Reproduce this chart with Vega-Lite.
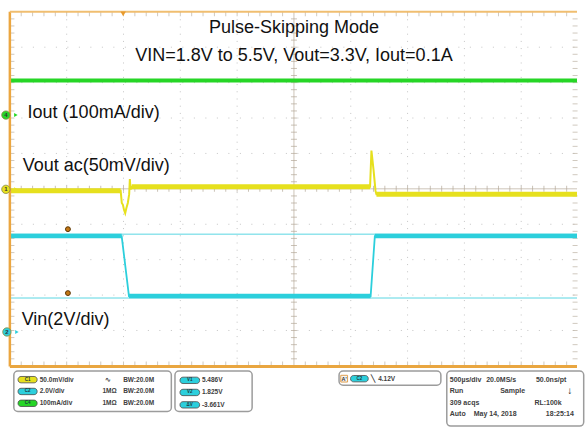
{
  "$schema": "https://vega.github.io/schema/vega-lite/v6.json",
  "width": 585,
  "height": 427,
  "autosize": {"type": "fit", "contains": "padding"},
  "padding": 0,
  "background": "white",
  "config": {
    "view": {"stroke": null},
    "font": "Liberation Sans",
    "axis": {"disable": true},
    "legend": {"disable": true}
  },
  "datasets": {
    "gridx": [{"t": -2}, {"t": -1.5}, {"t": -1}, {"t": -0.5}, {"t": 0.5}, {"t": 1}, {"t": 1.5}, {"t": 2}],
    "gridy": [{"d": -4}, {"d": -3}, {"d": -2}, {"d": -1}, {"d": 1}, {"d": 2}, {"d": 3}, {"d": 4}],
    "xticks": [
      {"t": -2.4}, {"t": -2.3}, {"t": -2.2}, {"t": -2.1}, {"t": -2.0}, {"t": -1.9}, {"t": -1.8}, {"t": -1.7}, {"t": -1.6}, {"t": -1.5},
      {"t": -1.4}, {"t": -1.3}, {"t": -1.2}, {"t": -1.1}, {"t": -1.0}, {"t": -0.9}, {"t": -0.8}, {"t": -0.7}, {"t": -0.6}, {"t": -0.5},
      {"t": -0.4}, {"t": -0.3}, {"t": -0.2}, {"t": -0.1}, {"t": 0.1}, {"t": 0.2}, {"t": 0.3}, {"t": 0.4}, {"t": 0.5}, {"t": 0.6},
      {"t": 0.7}, {"t": 0.8}, {"t": 0.9}, {"t": 1.0}, {"t": 1.1}, {"t": 1.2}, {"t": 1.3}, {"t": 1.4}, {"t": 1.5}, {"t": 1.6},
      {"t": 1.7}, {"t": 1.8}, {"t": 1.9}, {"t": 2.0}, {"t": 2.1}, {"t": 2.2}, {"t": 2.3}, {"t": 2.4}
    ],
    "yticks": [
      {"d": -4.8}, {"d": -4.6}, {"d": -4.4}, {"d": -4.2}, {"d": -4.0}, {"d": -3.8}, {"d": -3.6}, {"d": -3.4}, {"d": -3.2}, {"d": -3.0},
      {"d": -2.8}, {"d": -2.6}, {"d": -2.4}, {"d": -2.2}, {"d": -2.0}, {"d": -1.8}, {"d": -1.6}, {"d": -1.4}, {"d": -1.2}, {"d": -1.0},
      {"d": -0.8}, {"d": -0.6}, {"d": -0.4}, {"d": -0.2}, {"d": 0.2}, {"d": 0.4}, {"d": 0.6}, {"d": 0.8}, {"d": 1.0}, {"d": 1.2},
      {"d": 1.4}, {"d": 1.6}, {"d": 1.8}, {"d": 2.0}, {"d": 2.2}, {"d": 2.4}, {"d": 2.6}, {"d": 2.8}, {"d": 3.0}, {"d": 3.2},
      {"d": 3.4}, {"d": 3.6}, {"d": 3.8}, {"d": 4.0}, {"d": 4.2}, {"d": 4.4}, {"d": 4.6}, {"d": 4.8}
    ],
    "iout": [{"t": -2.5, "div": 3.06}, {"t": 2.491, "div": 3.06}],
    "vin": [
      {"t": -2.5, "div": -1.333}, {"t": -1.516, "div": -1.333}, {"t": -1.452, "div": -3.028},
      {"t": 0.675, "div": -3.028}, {"t": 0.712, "div": -1.333}, {"t": 2.491, "div": -1.333}
    ],
    "vin_flat": [
      {"t1": -2.5, "t2": -1.516, "div": -1.333},
      {"t1": -1.452, "t2": 0.675, "div": -3.028},
      {"t1": 0.712, "t2": 2.491, "div": -1.333}
    ],
    "vin_ref": [{"level": "high", "div": -1.28}, {"level": "low", "div": -3.083}],
    "vout": [
      {"t": -2.5, "div": -0.056}, {"t": -1.525, "div": -0.056}, {"t": -1.515, "div": -0.4},
      {"t": -1.505, "div": -0.45}, {"t": -1.495, "div": -0.6}, {"t": -1.485, "div": -0.69},
      {"t": -1.475, "div": -0.55}, {"t": -1.462, "div": -0.4}, {"t": -1.45, "div": -0.15},
      {"t": -1.444, "div": 0.278}, {"t": -1.438, "div": -0.02}, {"t": -1.428, "div": 0.056},
      {"t": 0.67, "div": 0.056}, {"t": 0.682, "div": 1.083}, {"t": 0.7, "div": 0.55},
      {"t": 0.718, "div": -0.06}, {"t": 0.726, "div": -0.153}, {"t": 2.491, "div": -0.153}
    ],
    "vout_flat": [
      {"t1": -2.5, "t2": -1.525, "div": -0.056},
      {"t1": -1.428, "t2": 0.67, "div": 0.056},
      {"t1": 0.726, "t2": 2.491, "div": -0.153}
    ],
    "cursors": [{"name": "V1", "t": -1.989, "div": -1.139}, {"name": "V2", "t": -1.989, "div": -2.944}],
    "trigger": [{"t": -1.503, "div": 4.944}],
    "channels": [
      {"ch": "4", "t": -2.535, "div": 2.083},
      {"ch": "1", "t": -2.535, "div": -0.014},
      {"ch": "2", "t": -2.526, "div": -4.042}
    ],
    "titles": [
      {"t": 0, "div": 4.556, "text": "Pulse-Skipping Mode"},
      {"t": 0, "div": 3.75, "text": "VIN=1.8V to 5.5V, Vout=3.3V, Iout=0.1A"}
    ],
    "labels": [
      {"t": -2.344, "div": 2.139, "text": "Iout (100mA/div)"},
      {"t": -2.387, "div": 0.639, "text": "Vout ac(50mV/div)"},
      {"t": -2.396, "div": -3.694, "text": "Vin(2V/div)"}
    ],
    "boxes": [
      {"box": "vertical", "t1": -2.465, "t2": -1.079, "d1": -5.147, "d2": -6.286},
      {"box": "cursors", "t1": -1.047, "t2": -0.368, "d1": -5.147, "d2": -6.286},
      {"box": "trigger", "t1": 0.397, "t2": 1.293, "d1": -5.147, "d2": -5.547},
      {"box": "acquisition", "t1": 1.345, "t2": 2.55, "d1": -5.147, "d2": -6.7}
    ],
    "pills": [
      {"name": "C1", "ch": "1", "t1": -2.428, "t2": -2.26, "tc": -2.344, "d1": -5.299, "d2": -5.479, "dc": -5.389},
      {"name": "C2", "ch": "2", "t1": -2.428, "t2": -2.26, "tc": -2.344, "d1": -5.632, "d2": -5.812, "dc": -5.722},
      {"name": "C4", "ch": "4", "t1": -2.428, "t2": -2.26, "tc": -2.344, "d1": -5.966, "d2": -6.146, "dc": -6.056},
      {"name": "V1", "ch": "2", "t1": -1.003, "t2": -0.83, "tc": -0.917, "d1": -5.318, "d2": -5.498, "dc": -5.408},
      {"name": "V2", "ch": "2", "t1": -1.003, "t2": -0.83, "tc": -0.917, "d1": -5.66, "d2": -5.84, "dc": -5.75},
      {"name": "ΔV", "ch": "2", "t1": -1.003, "t2": -0.83, "tc": -0.917, "d1": -6.01, "d2": -6.19, "dc": -6.1},
      {"name": "C2", "ch": "2", "t1": 0.498, "t2": 0.654, "tc": 0.576, "d1": -5.271, "d2": -5.451, "dc": -5.361}
    ],
    "trig_box": [{"name": "A'", "t1": 0.412, "t2": 0.472, "tc": 0.442, "d1": -5.266, "d2": -5.456, "dc": -5.361}],
    "status_small": [
      {"t": -2.237, "div": -5.389, "text": "50.0mV/div"},
      {"t": -2.237, "div": -5.722, "text": "2.0V/div"},
      {"t": -2.237, "div": -6.056, "text": "100mA/div"},
      {"t": -1.659, "div": -5.389, "text": "∿"},
      {"t": -1.685, "div": -5.722, "text": "1MΩ"},
      {"t": -1.685, "div": -6.056, "text": "1MΩ"},
      {"t": -1.503, "div": -5.389, "text": "BW:20.0M"},
      {"t": -1.503, "div": -5.722, "text": "BW:20.0M"},
      {"t": -1.503, "div": -6.056, "text": "BW:20.0M"},
      {"t": -0.81, "div": -5.408, "text": "5.486V"},
      {"t": -0.81, "div": -5.75, "text": "1.825V"},
      {"t": -0.81, "div": -6.1, "text": "-3.661V"},
      {"t": 0.68, "div": -5.361, "text": "╲"},
      {"t": 0.741, "div": -5.361, "text": "4.12V"}
    ],
    "status_right": [
      {"t": 1.371, "div": -5.389, "text": "500µs/div"},
      {"t": 1.692, "div": -5.389, "text": "20.0MS/s"},
      {"t": 2.13, "div": -5.389, "text": "50.0ns/pt"},
      {"t": 1.371, "div": -5.703, "text": "Run"},
      {"t": 1.815, "div": -5.703, "text": "Sample"},
      {"t": 1.371, "div": -6.036, "text": "309 acqs"},
      {"t": 2.116, "div": -6.036, "text": "RL:100k"},
      {"t": 1.371, "div": -6.361, "text": "Auto"},
      {"t": 1.582, "div": -6.361, "text": "May 14, 2018"},
      {"t": 2.217, "div": -6.361, "text": "18:25:14"}
    ],
    "status_arrow": [{"t": 2.405, "div": -5.703, "text": "↓"}]
  },
  "layer": [
    {
      "data": {"name": "gridx"},
      "mark": {"type": "rule", "color": "#c4c4c4", "strokeWidth": 1, "strokeDash": [1, 6.2]},
      "encoding": {
        "x": {"field": "t", "type": "quantitative", "scale": {"domain": [-2.578, 2.491], "nice": false, "zero": false}},
        "y": {"datum": -5, "type": "quantitative", "scale": {"domain": [-6.528, 5.333], "nice": false, "zero": false}},
        "y2": {"datum": 5}
      }
    },
    {
      "data": {"name": "gridy"},
      "mark": {"type": "rule", "color": "#c4c4c4", "strokeWidth": 1, "strokeDash": [1, 10.5]},
      "encoding": {
        "y": {"field": "d", "type": "quantitative"},
        "x": {"datum": -2.5, "type": "quantitative"},
        "x2": {"datum": 2.491}
      }
    },
    {
      "data": {"values": [{}]},
      "mark": {"type": "rule", "color": "#cdc4b8", "strokeWidth": 1},
      "encoding": {"x": {"datum": 0, "type": "quantitative"}, "y": {"datum": -5, "type": "quantitative"}, "y2": {"datum": 5}}
    },
    {
      "data": {"values": [{}]},
      "mark": {"type": "rule", "color": "#cdc4b8", "strokeWidth": 1},
      "encoding": {"y": {"datum": 0, "type": "quantitative"}, "x": {"datum": -2.5, "type": "quantitative"}, "x2": {"datum": 2.491}}
    },
    {
      "data": {"name": "yticks"},
      "mark": {"type": "tick", "orient": "horizontal", "size": 6, "thickness": 1, "color": "#b4a898"},
      "encoding": {"y": {"field": "d", "type": "quantitative"}, "x": {"datum": 0, "type": "quantitative"}}
    },
    {
      "data": {"name": "xticks"},
      "mark": {"type": "tick", "orient": "vertical", "size": 6, "thickness": 1, "color": "#b4a898"},
      "encoding": {"x": {"field": "t", "type": "quantitative"}, "y": {"datum": 0, "type": "quantitative"}}
    },
    {
      "data": {"name": "xticks"},
      "mark": {"type": "tick", "orient": "vertical", "size": 5, "thickness": 1, "color": "#bcb2a4"},
      "encoding": {"x": {"field": "t", "type": "quantitative"}, "y": {"datum": 4.944, "type": "quantitative"}}
    },
    {
      "data": {"name": "xticks"},
      "mark": {"type": "tick", "orient": "vertical", "size": 5, "thickness": 1, "color": "#bcb2a4"},
      "encoding": {"x": {"field": "t", "type": "quantitative"}, "y": {"datum": -4.944, "type": "quantitative"}}
    },
    {
      "data": {"name": "yticks"},
      "mark": {"type": "tick", "orient": "horizontal", "size": 5, "thickness": 1, "color": "#bcb2a4"},
      "encoding": {"y": {"field": "d", "type": "quantitative"}, "x": {"datum": -2.482, "type": "quantitative"}}
    },
    {
      "data": {"name": "yticks"},
      "mark": {"type": "tick", "orient": "horizontal", "size": 5, "thickness": 1, "color": "#bcb2a4"},
      "encoding": {"y": {"field": "d", "type": "quantitative"}, "x": {"datum": 2.474, "type": "quantitative"}}
    },
    {
      "data": {"name": "vin_ref"},
      "mark": {"type": "rule", "color": "#5ad6e2", "strokeWidth": 1},
      "encoding": {"y": {"field": "div", "type": "quantitative"}, "x": {"datum": -2.5, "type": "quantitative"}, "x2": {"datum": 2.491}}
    },
    {
      "data": {"name": "vin"},
      "mark": {"type": "line", "color": "#2ccfdc", "strokeWidth": 1.8},
      "encoding": {"x": {"field": "t", "type": "quantitative"}, "y": {"field": "div", "type": "quantitative"}}
    },
    {
      "data": {"name": "vin_flat"},
      "mark": {"type": "rule", "color": "#2ccfdc", "strokeWidth": 4.5},
      "encoding": {"x": {"field": "t1", "type": "quantitative"}, "x2": {"field": "t2"}, "y": {"field": "div", "type": "quantitative"}}
    },
    {
      "data": {"name": "vout"},
      "mark": {"type": "line", "color": "#e6e01e", "strokeWidth": 2},
      "encoding": {"x": {"field": "t", "type": "quantitative"}, "y": {"field": "div", "type": "quantitative"}}
    },
    {
      "data": {"name": "vout_flat"},
      "mark": {"type": "rule", "color": "#e6e01e", "strokeWidth": 5},
      "encoding": {"x": {"field": "t1", "type": "quantitative"}, "x2": {"field": "t2"}, "y": {"field": "div", "type": "quantitative"}}
    },
    {
      "data": {"name": "iout"},
      "mark": {"type": "line", "color": "#26d626", "strokeWidth": 4},
      "encoding": {"x": {"field": "t", "type": "quantitative"}, "y": {"field": "div", "type": "quantitative"}}
    },
    {
      "data": {"values": [{}]},
      "mark": {"type": "rule", "color": "#eba640", "strokeWidth": 2.5},
      "encoding": {"x": {"datum": -2.5, "type": "quantitative"}, "y": {"datum": -5.02, "type": "quantitative"}, "y2": {"datum": 5.0}}
    },
    {
      "data": {"values": [{}]},
      "mark": {"type": "rule", "color": "#f0be70", "strokeWidth": 2},
      "encoding": {"y": {"datum": 5.0, "type": "quantitative"}, "x": {"datum": -2.5, "type": "quantitative"}, "x2": {"datum": 2.491}}
    },
    {
      "data": {"values": [{}]},
      "mark": {"type": "rule", "color": "#e9a640", "strokeWidth": 3},
      "encoding": {"y": {"datum": -5.02, "type": "quantitative"}, "x": {"datum": -2.5, "type": "quantitative"}, "x2": {"datum": 2.491}}
    },
    {
      "data": {"name": "trigger"},
      "mark": {"type": "point", "shape": "triangle-down", "filled": true, "size": 30, "color": "#e89a2c", "opacity": 1},
      "encoding": {"x": {"field": "t", "type": "quantitative"}, "y": {"field": "div", "type": "quantitative"}}
    },
    {
      "data": {"name": "cursors"},
      "mark": {"type": "point", "shape": "circle", "filled": true, "size": 24, "fill": "#c47816", "stroke": "#5a3400", "strokeWidth": 1, "opacity": 1},
      "encoding": {"x": {"field": "t", "type": "quantitative"}, "y": {"field": "div", "type": "quantitative"}}
    },
    {
      "data": {"name": "channels"},
      "mark": {"type": "point", "shape": "triangle-right", "filled": true, "size": 16, "opacity": 1, "xOffset": 10},
      "encoding": {
        "x": {"field": "t", "type": "quantitative"},
        "y": {"field": "div", "type": "quantitative"},
        "color": {"field": "ch", "type": "nominal", "scale": {"domain": ["1", "2", "4"], "range": ["#e6e01e", "#2ccfdc", "#26d626"]}}
      }
    },
    {
      "data": {"name": "channels"},
      "mark": {"type": "point", "shape": "circle", "filled": true, "size": 70, "opacity": 1, "stroke": "#8a8a40", "strokeWidth": 0.8},
      "encoding": {
        "x": {"field": "t", "type": "quantitative"},
        "y": {"field": "div", "type": "quantitative"},
        "fill": {"field": "ch", "type": "nominal", "scale": {"domain": ["1", "2", "4"], "range": ["#e6e01e", "#2ccfdc", "#26d626"]}}
      }
    },
    {
      "data": {"name": "channels"},
      "mark": {"type": "text", "fontSize": 6, "fontWeight": "bold", "color": "#333333", "align": "center", "baseline": "middle"},
      "encoding": {"x": {"field": "t", "type": "quantitative"}, "y": {"field": "div", "type": "quantitative"}, "text": {"field": "ch"}}
    },
    {
      "data": {"name": "titles"},
      "mark": {"type": "text", "fontSize": 18, "color": "#111111", "align": "center", "baseline": "middle", "font": "Liberation Sans"},
      "encoding": {"x": {"field": "t", "type": "quantitative"}, "y": {"field": "div", "type": "quantitative"}, "text": {"field": "text"}}
    },
    {
      "data": {"name": "labels"},
      "mark": {"type": "text", "fontSize": 18, "color": "#111111", "align": "left", "baseline": "middle", "font": "Liberation Sans"},
      "encoding": {"x": {"field": "t", "type": "quantitative"}, "y": {"field": "div", "type": "quantitative"}, "text": {"field": "text"}}
    },
    {
      "data": {"name": "boxes"},
      "mark": {"type": "rect", "fill": "white", "stroke": "#9c9c9c", "strokeWidth": 1.5, "cornerRadius": 4},
      "encoding": {
        "x": {"field": "t1", "type": "quantitative"}, "x2": {"field": "t2"},
        "y": {"field": "d1", "type": "quantitative"}, "y2": {"field": "d2"}
      }
    },
    {
      "data": {"name": "trig_box"},
      "mark": {"type": "rect", "fill": "#f4f4f4", "stroke": "#e0a050", "strokeWidth": 1},
      "encoding": {
        "x": {"field": "t1", "type": "quantitative"}, "x2": {"field": "t2"},
        "y": {"field": "d1", "type": "quantitative"}, "y2": {"field": "d2"}
      }
    },
    {
      "data": {"name": "trig_box"},
      "mark": {"type": "text", "fontSize": 5.5, "fontWeight": "bold", "color": "#333333", "align": "center", "baseline": "middle"},
      "encoding": {"x": {"field": "tc", "type": "quantitative"}, "y": {"field": "dc", "type": "quantitative"}, "text": {"field": "name"}}
    },
    {
      "data": {"name": "pills"},
      "mark": {"type": "rect", "stroke": "#4a4a4a", "strokeWidth": 0.8, "cornerRadius": 3, "opacity": 1},
      "encoding": {
        "x": {"field": "t1", "type": "quantitative"}, "x2": {"field": "t2"},
        "y": {"field": "d1", "type": "quantitative"}, "y2": {"field": "d2"},
        "fill": {"field": "ch", "type": "nominal", "scale": {"domain": ["1", "2", "4"], "range": ["#e6e01e", "#2ccfdc", "#26d626"]}}
      }
    },
    {
      "data": {"name": "pills"},
      "mark": {"type": "text", "fontSize": 4.5, "fontWeight": "bold", "color": "#1e3a40", "align": "center", "baseline": "middle"},
      "encoding": {"x": {"field": "tc", "type": "quantitative"}, "y": {"field": "dc", "type": "quantitative"}, "text": {"field": "name"}}
    },
    {
      "data": {"name": "status_small"},
      "mark": {"type": "text", "fontSize": 6.5, "fontWeight": "bold", "color": "#404040", "align": "left", "baseline": "middle"},
      "encoding": {"x": {"field": "t", "type": "quantitative"}, "y": {"field": "div", "type": "quantitative"}, "text": {"field": "text"}}
    },
    {
      "data": {"name": "status_right"},
      "mark": {"type": "text", "fontSize": 7, "fontWeight": "bold", "color": "#404040", "align": "left", "baseline": "middle"},
      "encoding": {"x": {"field": "t", "type": "quantitative"}, "y": {"field": "div", "type": "quantitative"}, "text": {"field": "text"}}
    },
    {
      "data": {"name": "status_arrow"},
      "mark": {"type": "text", "fontSize": 10, "fontWeight": "bold", "color": "#111111", "align": "left", "baseline": "middle"},
      "encoding": {"x": {"field": "t", "type": "quantitative"}, "y": {"field": "div", "type": "quantitative"}, "text": {"field": "text"}}
    }
  ]
}
